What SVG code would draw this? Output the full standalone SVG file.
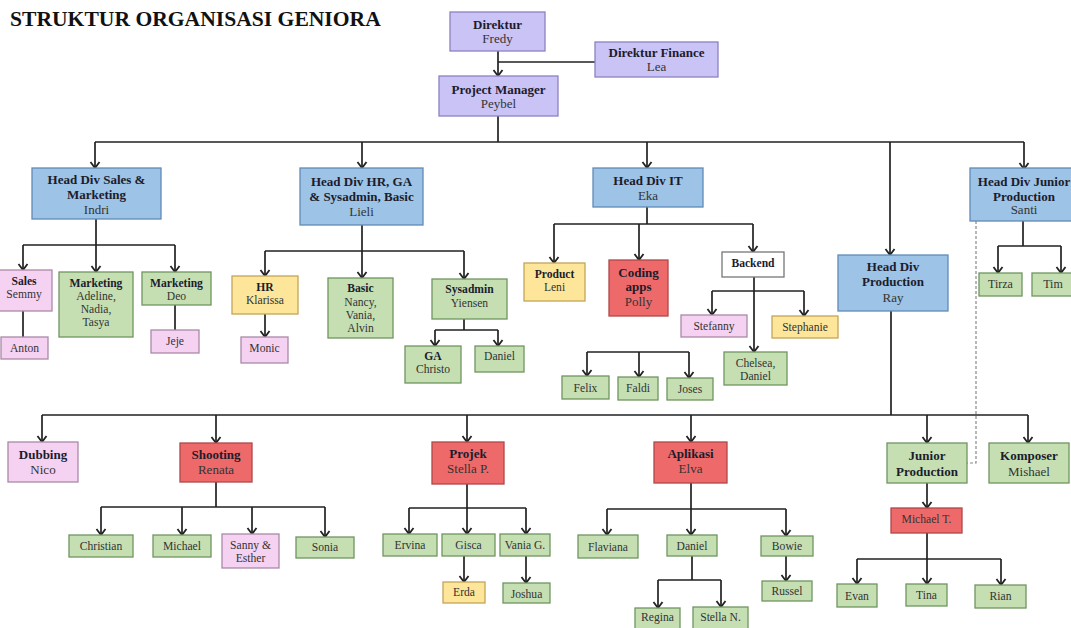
<svg xmlns="http://www.w3.org/2000/svg" width="1071" height="628" viewBox="0 0 1071 628">
<style>
rect{stroke-width:1.3}
.lav{fill:#cac3f5;stroke:#8a82c2}
.blue{fill:#9dc3e6;stroke:#5f8bb8}
.green{fill:#c5dfb3;stroke:#6e9660}
.pink{fill:#f5d2f2;stroke:#a88aa6}
.yellow{fill:#fde699;stroke:#c4a55a}
.red{fill:#ee6a6a;stroke:#b04848}
.white{fill:#ffffff;stroke:#777}
text{font-family:"Liberation Serif","Times New Roman",serif;text-anchor:middle;fill:#333}
.b{font-weight:bold;fill:#1c1c2c}
.s13{font-size:13px}
.s12{font-size:12px}
.s11{font-size:11.6px}
.title{font-size:21.6px;font-weight:bold;fill:#111;text-anchor:start}
.c{fill:none;stroke:#222;stroke-width:1.7}
.d{fill:none;stroke:#888;stroke-width:1.2;stroke-dasharray:3,2}
</style>
<defs>
<marker id="arr" markerUnits="userSpaceOnUse" markerWidth="12" markerHeight="12" viewBox="-8 -6 10 12" refX="0" refY="0" orient="auto">
<path d="M-6,-4.5 L0,0 L-6,4.5" fill="none" stroke="#222" stroke-width="1.8"/>
</marker>
</defs>
<rect width="1071" height="628" fill="#fff"/>
<text class="title" x="10" y="26">STRUKTUR ORGANISASI GENIORA</text>

<g id="connectors">
<path class="c" d="M498,62 H595"/>
<path class="c" d="M498,51 V76" marker-end="url(#arr)"/>
<path class="c" d="M498,116 V142 M95,142 H1024"/>
<path class="c" d="M95,142 V168" marker-end="url(#arr)"/>
<path class="c" d="M362,142 V168" marker-end="url(#arr)"/>
<path class="c" d="M647,142 V168" marker-end="url(#arr)"/>
<path class="c" d="M890,142 V255" marker-end="url(#arr)"/>
<path class="c" d="M1024,142 V169" marker-end="url(#arr)"/>
<!-- Sales -->
<path class="c" d="M96,219 V245 M23,245 H175"/>
<path class="c" d="M23,245 V270" marker-end="url(#arr)"/>
<path class="c" d="M96,245 V272" marker-end="url(#arr)"/>
<path class="c" d="M175,245 V272" marker-end="url(#arr)"/>
<path class="c" d="M23,311 V337 M175,305 V330"/>
<!-- HR -->
<path class="c" d="M362,225 V251 M265,251 H464"/>
<path class="c" d="M265,251 V276" marker-end="url(#arr)"/>
<path class="c" d="M362,251 V278" marker-end="url(#arr)"/>
<path class="c" d="M464,251 V279" marker-end="url(#arr)"/>
<path class="c" d="M265,314 V337" marker-end="url(#arr)"/>
<path class="c" d="M464,319 V330 M435,330 H498"/>
<path class="c" d="M435,330 V346" marker-end="url(#arr)"/>
<path class="c" d="M498,330 V346" marker-end="url(#arr)"/>
<!-- IT -->
<path class="c" d="M647,207 V224 M554,224 H753"/>
<path class="c" d="M554,224 V263" marker-end="url(#arr)"/>
<path class="c" d="M639,224 V260" marker-end="url(#arr)"/>
<path class="c" d="M753,224 V252" marker-end="url(#arr)"/>
<path class="c" d="M754,277 V352" marker-end="url(#arr)"/>
<path class="c" d="M712,291 H804"/>
<path class="c" d="M712,291 V315" marker-end="url(#arr)"/>
<path class="c" d="M804,291 V316" marker-end="url(#arr)"/>
<path class="c" d="M587,352 H689"/>
<path class="c" d="M587,352 V376" marker-end="url(#arr)"/>
<path class="c" d="M639,352 V377" marker-end="url(#arr)"/>
<path class="c" d="M689,352 V378" marker-end="url(#arr)"/>
<!-- Junior head -->
<path class="c" d="M1023,221 V246 M998,246 H1061"/>
<path class="c" d="M998,246 V273" marker-end="url(#arr)"/>
<path class="c" d="M1061,246 V273" marker-end="url(#arr)"/>
<path class="d" d="M976,221 V463 H967"/>
<!-- Production -->
<path class="c" d="M891,311 V415 M42,415 H1028"/>
<path class="c" d="M42,415 V442" marker-end="url(#arr)"/>
<path class="c" d="M216,415 V443" marker-end="url(#arr)"/>
<path class="c" d="M467,415 V442" marker-end="url(#arr)"/>
<path class="c" d="M691,415 V442" marker-end="url(#arr)"/>
<path class="c" d="M927,415 V443" marker-end="url(#arr)"/>
<path class="c" d="M1028,415 V443" marker-end="url(#arr)"/>
<!-- Shooting -->
<path class="c" d="M216,482 V507 M101,507 H325"/>
<path class="c" d="M101,507 V535" marker-end="url(#arr)"/>
<path class="c" d="M182,507 V535" marker-end="url(#arr)"/>
<path class="c" d="M252,507 V534" marker-end="url(#arr)"/>
<path class="c" d="M325,507 V537" marker-end="url(#arr)"/>
<!-- Projek -->
<path class="c" d="M467,484 V508 M409,508 H526"/>
<path class="c" d="M409,508 V534" marker-end="url(#arr)"/>
<path class="c" d="M467,508 V534" marker-end="url(#arr)"/>
<path class="c" d="M526,508 V534" marker-end="url(#arr)"/>
<path class="c" d="M464,556 V582" marker-end="url(#arr)"/>
<path class="c" d="M526,556 V583" marker-end="url(#arr)"/>
<!-- Aplikasi -->
<path class="c" d="M691,483 V509 M607,509 H786"/>
<path class="c" d="M607,509 V535" marker-end="url(#arr)"/>
<path class="c" d="M691,509 V535" marker-end="url(#arr)"/>
<path class="c" d="M786,509 V536" marker-end="url(#arr)"/>
<path class="c" d="M786,556 V581" marker-end="url(#arr)"/>
<path class="c" d="M692,556 V580 M658,580 H721"/>
<path class="c" d="M658,580 V608" marker-end="url(#arr)"/>
<path class="c" d="M721,580 V607" marker-end="url(#arr)"/>
<!-- Junior Production -->
<path class="c" d="M927,483 V508" marker-end="url(#arr)"/>
<path class="c" d="M927,533 V559 M857,559 H1001"/>
<path class="c" d="M857,559 V584" marker-end="url(#arr)"/>
<path class="c" d="M927,559 V584" marker-end="url(#arr)"/>
<path class="c" d="M1001,559 V585" marker-end="url(#arr)"/>
</g>

<g id="direktur"><rect class="lav" x="450" y="12" width="95" height="39"/><text class="b s13" x="497.5" y="29">Direktur</text><text class="s13" x="497.5" y="43">Fredy</text></g>
<g id="finance"><rect class="lav" x="595" y="42" width="123" height="35"/><text class="b s13" x="656.5" y="57">Direktur Finance</text><text class="s13" x="656.5" y="71">Lea</text></g>
<g id="pm"><rect class="lav" x="439" y="76" width="119" height="40"/><text class="b s13" x="498.5" y="93.5">Project Manager</text><text class="s13" x="498.5" y="107.5">Peybel</text></g>

<g id="head-sales"><rect class="blue" x="32" y="168" width="129" height="51"/><text class="b s13" x="96.5" y="184">Head Div Sales &amp;</text><text class="b s13" x="96.5" y="199">Marketing</text><text class="s13" x="96.5" y="214">Indri</text></g>
<g id="head-hr"><rect class="blue" x="300" y="168" width="123" height="57"/><text class="b s13" x="361.5" y="186">Head Div HR, GA</text><text class="b s13" x="361.5" y="201">&amp; Sysadmin, Basic</text><text class="s13" x="361.5" y="216">Lieli</text></g>
<g id="head-it"><rect class="blue" x="593" y="168" width="110" height="39"/><text class="b s13" x="648" y="184.5">Head Div IT</text><text class="s13" x="648" y="200">Eka</text></g>
<g id="head-prod"><rect class="blue" x="838" y="255" width="110" height="56"/><text class="b s13" x="893" y="270.5">Head Div</text><text class="b s13" x="893" y="286">Production</text><text class="s13" x="893" y="301.5">Ray</text></g>
<g id="head-junior"><rect class="blue" x="970" y="168" width="108" height="53"/><text class="b s13" x="1024" y="185.5">Head Div Junior</text><text class="b s13" x="1024" y="200.5">Production</text><text class="s13" x="1024" y="214">Santi</text></g>

<g id="sales"><rect class="pink" x="-4" y="270" width="56" height="41"/><text class="b s11" x="24" y="285">Sales</text><text class="s11" x="24" y="298">Semmy</text></g>
<g id="marketing1"><rect class="green" x="59" y="272" width="74" height="65"/><text class="b s11" x="96" y="287">Marketing</text><text class="s11" x="96" y="300">Adeline,</text><text class="s11" x="96" y="313">Nadia,</text><text class="s11" x="96" y="326">Tasya</text></g>
<g id="marketing2"><rect class="green" x="142" y="272" width="69" height="33"/><text class="b s11" x="176.5" y="287">Marketing</text><text class="s11" x="176.5" y="300">Deo</text></g>
<g id="anton"><rect class="pink" x="1" y="337" width="47" height="22"/><text class="s11" x="24.5" y="352">Anton</text></g>
<g id="jeje"><rect class="pink" x="151" y="330" width="48" height="23"/><text class="s11" x="175" y="345">Jeje</text></g>

<g id="hr"><rect class="yellow" x="232" y="276" width="66" height="38"/><text class="b s11" x="265" y="291">HR</text><text class="s11" x="265" y="304">Klarissa</text></g>
<g id="monic"><rect class="pink" x="241" y="337" width="47" height="26"/><text class="s11" x="264.5" y="352">Monic</text></g>
<g id="basic"><rect class="green" x="328" y="278" width="65" height="60"/><text class="b s11" x="360.5" y="292">Basic</text><text class="s11" x="360.5" y="305.5">Nancy,</text><text class="s11" x="360.5" y="319">Vania,</text><text class="s11" x="360.5" y="332">Alvin</text></g>
<g id="sysadmin"><rect class="green" x="432" y="279" width="75" height="40"/><text class="b s11" x="469.5" y="293">Sysadmin</text><text class="s11" x="469.5" y="307">Yiensen</text></g>
<g id="ga"><rect class="green" x="405" y="346" width="56" height="37"/><text class="b s11" x="433" y="360">GA</text><text class="s11" x="433" y="373">Christo</text></g>
<g id="daniel1"><rect class="green" x="475" y="346" width="49" height="26"/><text class="s11" x="499.5" y="360">Daniel</text></g>

<g id="product"><rect class="yellow" x="524" y="263" width="61" height="38"/><text class="b s11" x="554.5" y="278">Product</text><text class="s11" x="554.5" y="291">Leni</text></g>
<g id="coding"><rect class="red" x="609" y="260" width="59" height="56"/><text class="b s13" x="638.5" y="276.5">Coding</text><text class="b s13" x="638.5" y="290.5">apps</text><text class="s13" x="638.5" y="306">Polly</text></g>
<g id="backend"><rect class="white" x="722" y="252" width="62" height="25"/><text class="b s11" x="753" y="266.5">Backend</text></g>
<g id="stefanny"><rect class="pink" x="681" y="315" width="66" height="22"/><text class="s11" x="714" y="330">Stefanny</text></g>
<g id="stephanie"><rect class="yellow" x="772" y="316" width="66" height="22"/><text class="s11" x="805" y="331">Stephanie</text></g>
<g id="chelsea"><rect class="green" x="724" y="352" width="63" height="33"/><text class="s11" x="755.5" y="367">Chelsea,</text><text class="s11" x="755.5" y="380">Daniel</text></g>
<g id="felix"><rect class="green" x="562" y="376" width="47" height="23"/><text class="s11" x="585.5" y="392">Felix</text></g>
<g id="faldi"><rect class="green" x="618" y="377" width="40" height="23"/><text class="s11" x="638" y="392">Faldi</text></g>
<g id="joses"><rect class="green" x="667" y="378" width="46" height="22"/><text class="s11" x="690" y="393">Joses</text></g>

<g id="tirza"><rect class="green" x="979" y="273" width="43" height="23"/><text class="s12" x="1000.5" y="288">Tirza</text></g>
<g id="tim"><rect class="green" x="1032" y="273" width="42" height="23"/><text class="s12" x="1053" y="288">Tim</text></g>

<g id="dubbing"><rect class="pink" x="8" y="442" width="70" height="40"/><text class="b s13" x="43" y="458.5">Dubbing</text><text class="s13" x="43" y="474">Nico</text></g>
<g id="shooting"><rect class="red" x="180" y="443" width="72" height="39"/><text class="b s13" x="216" y="458.5">Shooting</text><text class="s13" x="216" y="474">Renata</text></g>
<g id="projek"><rect class="red" x="432" y="442" width="72" height="42"/><text class="b s13" x="468" y="457.5">Projek</text><text class="s13" x="468" y="472.5">Stella P.</text></g>
<g id="aplikasi"><rect class="red" x="654" y="442" width="73" height="41"/><text class="b s13" x="690.5" y="457.5">Aplikasi</text><text class="s13" x="690.5" y="472.5">Elva</text></g>
<g id="junior-prod"><rect class="green" x="887" y="443" width="80" height="40"/><text class="b s13" x="927" y="459.5">Junior</text><text class="b s13" x="927" y="475.5">Production</text></g>
<g id="komposer"><rect class="green" x="989" y="443" width="80" height="40"/><text class="b s13" x="1029" y="459.5">Komposer</text><text class="s13" x="1029" y="475.5">Mishael</text></g>

<g id="christian"><rect class="green" x="69" y="535" width="64" height="22"/><text class="s11" x="101" y="550">Christian</text></g>
<g id="michael"><rect class="green" x="153" y="535" width="58" height="22"/><text class="s11" x="182" y="550">Michael</text></g>
<g id="sanny"><rect class="pink" x="222" y="534" width="57" height="34"/><text class="s11" x="250.5" y="549">Sanny &amp;</text><text class="s11" x="250.5" y="562">Esther</text></g>
<g id="sonia"><rect class="green" x="296" y="537" width="58" height="21"/><text class="s11" x="325" y="551">Sonia</text></g>

<g id="ervina"><rect class="green" x="383" y="534" width="54" height="22"/><text class="s11" x="410" y="549">Ervina</text></g>
<g id="gisca"><rect class="green" x="442" y="534" width="53" height="22"/><text class="s11" x="468.5" y="549">Gisca</text></g>
<g id="vania"><rect class="green" x="500" y="534" width="50" height="22"/><text class="s11" x="525" y="549">Vania G.</text></g>
<g id="erda"><rect class="yellow" x="443" y="582" width="42" height="21"/><text class="s11" x="464" y="596">Erda</text></g>
<g id="joshua"><rect class="green" x="503" y="583" width="47" height="20"/><text class="s11" x="526.5" y="597.5">Joshua</text></g>

<g id="flaviana"><rect class="green" x="578" y="535" width="60" height="23"/><text class="s11" x="608" y="551">Flaviana</text></g>
<g id="daniel2"><rect class="green" x="667" y="535" width="50" height="21"/><text class="s11" x="692" y="549.5">Daniel</text></g>
<g id="bowie"><rect class="green" x="761" y="536" width="52" height="20"/><text class="s11" x="787" y="550">Bowie</text></g>
<g id="russel"><rect class="green" x="762" y="581" width="50" height="20"/><text class="s11" x="787" y="595">Russel</text></g>
<g id="regina"><rect class="green" x="635" y="608" width="45" height="22"/><text class="s11" x="657.5" y="621">Regina</text></g>
<g id="stellan"><rect class="green" x="693" y="607" width="55" height="23"/><text class="s11" x="720.5" y="621">Stella N.</text></g>

<g id="michaelt"><rect class="red" x="891" y="508" width="71" height="25"/><text class="s11" x="926.5" y="523">Michael T.</text></g>
<g id="evan"><rect class="green" x="837" y="584" width="40" height="23"/><text class="s11" x="857" y="599.5">Evan</text></g>
<g id="tina"><rect class="green" x="906" y="584" width="41" height="22"/><text class="s11" x="926.5" y="599">Tina</text></g>
<g id="rian"><rect class="green" x="975" y="585" width="51" height="23"/><text class="s11" x="1000.5" y="600">Rian</text></g>
</svg>
